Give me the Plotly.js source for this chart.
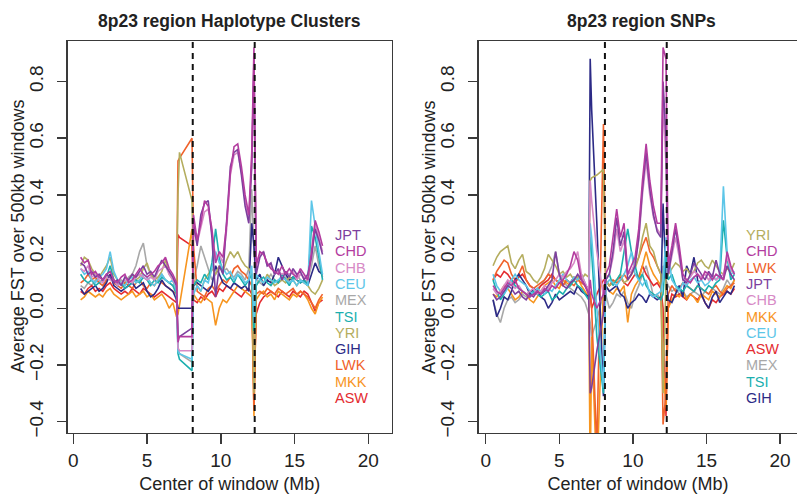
<!DOCTYPE html>
<html>
<head>
<meta charset="utf-8">
<script src="https://cdn.plot.ly/plotly-3.0.1.min.js"></script>
<style>html,body{margin:0;padding:0;background:#fff;}#chart{width:797px;height:494px;}</style>
</head>
<body>
<div id="chart"></div>
<script>
// ---- data: left panel (Haplotype Clusters) ----
var xLeft = [0.5,0.75,1,1.25,1.5,1.75,2,2.25,2.5,2.75,3,3.25,3.5,3.75,4,4.25,4.5,4.75,5,5.25,5.5,5.75,6,6.25,6.5,6.75,7,
  7.1,7.2,8.05,
  8.15,8.4,8.65,8.9,9.15,9.4,9.65,9.9,10.15,10.4,10.65,10.9,11.15,11.4,11.65,11.9,12.1,
  12.25,
  12.4,12.65,12.9,13.15,13.4,13.65,13.9,14.15,14.4,14.65,14.9,15.15,15.4,15.65,15.9,16.15,16.4,16.65,16.9];

var hapJPT = [0.16,0.15,0.12,0.13,0.11,0.12,0.1,0.12,0.11,0.09,0.1,0.08,0.11,0.1,0.12,0.11,0.13,0.15,0.12,0.13,0.11,0.14,0.17,0.15,0.13,0.11,0.08,
  -0.1,-0.1,-0.07,
  0.3,0.22,0.33,0.37,0.38,0.25,0.04,0.15,0.12,0.3,0.5,0.55,0.56,0.47,0.36,0.3,0.5,
  0.88,
  0.12,0.18,0.2,0.15,0.16,0.12,0.14,0.1,0.13,0.11,0.14,0.12,0.13,0.1,0.12,0.18,0.28,0.24,0.19];
var hapCHD = [0.18,0.16,0.17,0.12,0.13,0.11,0.1,0.12,0.13,0.1,0.09,0.11,0.12,0.09,0.1,0.12,0.14,0.12,0.11,0.12,0.13,0.15,0.16,0.18,0.14,0.12,0.09,
  -0.12,-0.1,-0.1,
  0.33,0.24,0.3,0.38,0.36,0.28,0.16,0.2,0.18,0.3,0.48,0.57,0.58,0.5,0.4,0.33,0.55,
  0.92,
  0.15,0.2,0.19,0.16,0.14,0.13,0.12,0.15,0.12,0.14,0.12,0.11,0.14,0.12,0.1,0.2,0.31,0.27,0.22];
var hapCHB = [0.14,0.13,0.15,0.11,0.12,0.1,0.09,0.11,0.1,0.1,0.08,0.09,0.1,0.1,0.09,0.11,0.12,0.11,0.1,0.11,0.1,0.13,0.14,0.15,0.12,0.1,0.08,
  -0.14,-0.15,-0.15,
  0.28,0.23,0.29,0.34,0.35,0.26,0.18,0.19,0.16,0.28,0.47,0.54,0.55,0.48,0.38,0.31,0.52,
  0.85,
  0.16,0.19,0.2,0.15,0.15,0.12,0.13,0.12,0.13,0.12,0.13,0.1,0.12,0.11,0.1,0.18,0.3,0.25,0.2];
var hapCEU = [0.14,0.12,0.13,0.1,0.09,0.11,0.12,0.14,0.2,0.13,0.1,0.09,0.08,0.1,0.11,0.09,0.1,0.12,0.11,0.09,0.08,0.1,0.12,0.1,0.09,0.1,0.06,
  -0.15,-0.16,-0.18,
  0.05,0.08,0.06,0.1,0.09,0.14,0.2,0.16,0.14,0.12,0.13,0.1,0.12,0.11,0.09,0.1,0.15,
  -0.05,
  0.12,0.1,0.09,0.11,0.1,0.09,0.1,0.11,0.1,0.09,0.1,0.08,0.1,0.09,0.08,0.38,0.28,0.2,0.12];
var hapMEX = [0.08,0.07,0.09,0.08,0.1,0.09,0.08,0.1,0.12,0.09,0.08,0.1,0.09,0.11,0.12,0.15,0.2,0.23,0.15,0.12,0.1,0.11,0.12,0.1,0.09,0.08,0.06,
  -0.14,-0.16,-0.19,
  0.1,0.15,0.22,0.18,0.14,0.1,0.12,0.15,0.13,0.14,0.12,0.11,0.13,0.12,0.1,0.14,0.42,
  0.2,
  0.1,0.09,0.08,0.1,0.12,0.1,0.09,0.1,0.11,0.09,0.1,0.12,0.1,0.09,0.1,0.15,0.22,0.15,0.11];
var hapTSI = [0.12,0.1,0.09,0.1,0.08,0.09,0.1,0.11,0.15,0.1,0.08,0.09,0.07,0.08,0.09,0.1,0.09,0.11,0.1,0.08,0.1,0.09,0.11,0.1,0.09,0.08,0.05,
  -0.16,-0.18,-0.22,
  0.08,0.1,0.09,0.12,0.1,0.16,0.28,0.18,0.12,0.1,0.11,0.09,0.12,0.1,0.08,0.1,0.12,
  -0.08,
  0.08,0.1,0.11,0.09,0.08,0.1,0.09,0.12,0.1,0.08,0.11,0.1,0.09,0.1,0.08,0.29,0.25,0.18,0.1];
var hapYRI = [0.15,0.18,0.17,0.14,0.12,0.11,0.13,0.15,0.18,0.12,0.1,0.09,0.08,0.1,0.12,0.1,0.11,0.14,0.16,0.12,0.1,0.11,0.13,0.17,0.12,0.1,0.05,
  0.4,0.55,0.38,
  0.1,0.08,0.06,0.1,0.12,0.14,0.12,0.15,0.13,0.17,0.2,0.18,0.2,0.17,0.15,0.14,0.12,
  -0.3,
  0.08,0.1,0.09,0.12,0.1,0.08,0.09,0.1,0.09,0.11,0.1,0.08,0.1,0.09,0.08,0.06,0.05,0.07,0.1];
var hapGIH = [0.07,0.05,0.06,0.07,0.08,0.06,0.07,0.09,0.12,0.08,0.07,0.06,0.07,0.08,0.09,0.07,0.08,0.09,0.06,0.04,0.05,0.07,0.1,0.08,0.07,0.06,0.03,
  0.0,0.0,0.0,
  0.08,0.09,0.08,0.07,0.06,0.08,0.15,0.12,0.09,0.08,0.07,0.09,0.08,0.07,0.08,0.06,0.3,
  0.22,
  0.1,0.12,0.08,0.1,0.09,0.12,0.18,0.15,0.12,0.1,0.11,0.1,0.09,0.1,0.08,0.12,0.16,0.13,0.12];
var hapLWK = [0.09,0.1,0.12,0.1,0.11,0.09,0.08,0.1,0.12,0.09,0.08,0.07,0.09,0.08,0.07,0.09,0.1,0.08,0.07,0.09,0.08,0.1,0.09,0.08,0.07,0.06,0.05,
  0.52,0.53,0.6,
  0.22,0.06,0.05,0.04,0.07,0.08,0.06,0.08,0.1,0.09,0.11,0.14,0.15,0.13,0.12,0.1,0.08,
  -0.36,
  0.05,0.06,0.05,0.07,0.06,0.05,0.07,0.06,0.05,0.06,0.07,0.05,0.06,0.05,0.04,0.02,0.0,0.03,0.05];
var hapMKK = [0.03,0.04,0.06,0.05,0.04,0.05,0.04,0.06,0.07,0.05,0.04,0.03,0.04,0.05,0.06,0.04,0.05,0.06,0.04,0.05,0.03,0.04,0.05,0.03,0.0,0.02,-0.03,
  -0.02,0.01,0.28,
  0.05,0.03,0.02,0.04,0.03,0.02,-0.06,0.0,0.03,0.02,0.04,0.06,0.08,0.07,0.06,0.05,0.04,
  -0.38,
  0.03,0.05,0.06,0.04,0.05,0.03,0.06,0.05,0.04,0.03,0.05,0.04,0.06,0.05,0.03,0.0,-0.02,0.02,0.04];
var hapASW = [0.06,0.05,0.07,0.08,0.06,0.07,0.06,0.08,0.09,0.07,0.06,0.05,0.06,0.05,0.07,0.06,0.05,0.07,0.06,0.05,0.04,0.05,0.06,0.05,0.04,0.03,0.02,
  0.26,0.25,0.22,
  0.03,0.02,0.04,0.03,0.05,0.06,0.04,0.07,0.06,0.08,0.07,0.06,0.05,0.04,0.06,0.07,0.05,
  -0.3,
  -0.02,0.02,0.04,0.05,0.06,0.05,0.04,0.06,0.05,0.04,0.06,0.05,0.04,0.06,0.05,0.02,-0.01,0.02,0.03];

// ---- data: right panel (SNPs) ----
var xRight = [0.5,0.75,1,1.25,1.5,1.75,2,2.25,2.5,2.75,3,3.25,3.5,3.75,4,4.25,4.5,4.75,5,5.25,5.5,5.75,6,6.25,6.5,6.75,7,
  7.1,7.2,7.55,8.0,
  8.15,8.4,8.65,8.9,9.15,9.4,9.65,9.9,10.15,10.4,10.65,10.9,11.15,11.4,11.65,11.9,
  12.05,12.25,
  12.4,12.65,12.9,13.15,13.4,13.65,13.9,14.15,14.4,14.65,14.9,15.15,15.4,15.65,15.9,16.15,16.4,16.65,16.9];

var snpYRI = [0.15,0.18,0.2,0.21,0.22,0.16,0.14,0.17,0.19,0.13,0.12,0.1,0.09,0.11,0.14,0.19,0.17,0.15,0.12,0.13,0.11,0.12,0.1,0.11,0.1,0.12,0.11,
  0.45,0.46,0.47,0.49,
  0.1,0.08,0.09,0.1,0.12,0.09,0.1,0.12,0.14,0.18,0.25,0.3,0.22,0.2,0.15,0.12,
  -0.3,0.1,
  0.12,0.14,0.16,0.15,0.13,0.14,0.12,0.13,0.16,0.17,0.15,0.14,0.17,0.15,0.13,0.12,0.14,0.13,0.16];
var snpCHD = [0.08,0.06,0.05,0.07,0.09,0.08,0.1,0.07,0.06,0.05,0.04,0.05,0.06,0.05,0.07,0.06,0.08,0.07,0.09,0.1,0.12,0.15,0.2,0.17,0.1,0.08,0.05,
  0.1,0.05,0.0,0.05,
  0.12,0.15,0.25,0.35,0.25,0.3,0.12,0.15,0.18,0.28,0.45,0.58,0.45,0.36,0.3,0.3,
  0.92,0.88,
  0.15,0.22,0.3,0.22,0.12,0.1,0.09,0.11,0.12,0.1,0.13,0.12,0.1,0.12,0.11,0.1,0.2,0.15,0.12];
var snpLWK = [0.1,0.13,0.15,0.17,0.16,0.12,0.1,0.12,0.15,0.1,0.08,0.07,0.08,0.09,0.1,0.12,0.11,0.1,0.09,0.08,0.1,0.09,0.08,0.1,0.09,0.08,0.07,
  0.05,0.0,-0.5,0.65,
  0.1,0.08,0.1,0.09,0.1,0.12,0.1,0.12,0.15,0.18,0.22,0.25,0.2,0.18,0.15,0.12,
  -0.41,-0.3,
  0.05,0.08,0.06,0.07,0.09,0.08,0.07,0.06,0.08,0.07,0.06,0.05,0.07,0.08,0.06,0.05,0.07,0.08,0.09];
var snpJPT = [0.05,0.03,0.04,0.06,0.08,0.07,0.05,0.06,0.04,0.03,0.05,0.04,0.06,0.05,0.06,0.08,0.1,0.2,0.12,0.08,0.07,0.09,0.1,0.12,0.1,0.08,0.05,
  -0.3,-0.28,-0.15,-0.02,
  0.1,0.12,0.2,0.32,0.22,0.27,0.1,0.12,0.15,0.25,0.42,0.55,0.42,0.33,0.27,0.25,
  0.8,0.6,
  0.12,0.2,0.28,0.2,0.1,0.09,0.12,0.16,0.14,0.12,0.1,0.13,0.11,0.17,0.12,0.1,0.15,0.12,0.1];
var snpCHB = [0.07,0.05,0.06,0.08,0.1,0.09,0.07,0.08,0.06,0.05,0.06,0.07,0.05,0.06,0.08,0.07,0.09,0.1,0.12,0.11,0.13,0.14,0.16,0.2,0.12,0.09,0.06,
  0.45,0.38,0.2,0.04,
  0.1,0.12,0.18,0.28,0.2,0.24,0.12,0.13,0.16,0.24,0.4,0.52,0.4,0.32,0.28,0.26,
  0.75,0.5,
  0.12,0.18,0.25,0.18,0.1,0.1,0.11,0.13,0.12,0.11,0.12,0.1,0.12,0.1,0.11,0.12,0.18,0.14,0.12];
var snpMKK = [0.05,0.04,0.06,0.08,0.07,0.05,0.03,0.04,0.06,0.05,0.03,0.02,0.04,0.06,0.08,0.09,0.1,0.08,0.07,0.1,0.09,0.08,0.1,0.11,0.08,0.06,0.04,
  -0.6,-0.1,-0.6,0.08,
  0.08,0.06,0.05,0.07,0.06,0.08,-0.05,0.05,0.08,0.1,0.15,0.2,0.15,0.12,0.1,0.08,
  -0.2,-0.35,
  0.0,0.03,0.05,0.04,0.06,0.03,0.05,0.04,0.02,0.05,0.04,0.03,0.06,0.05,0.04,0.06,0.08,0.07,0.1];
var snpCEU = [0.12,0.08,0.06,0.05,0.07,0.1,0.12,0.1,0.09,0.08,0.06,0.05,0.07,0.06,0.05,0.07,0.06,0.08,0.1,0.12,0.1,0.09,0.11,0.1,0.12,0.09,0.06,
  0.3,0.25,0.0,-0.28,
  0.08,0.1,0.09,0.08,0.1,0.12,0.15,0.2,0.12,0.1,0.08,0.1,0.05,0.04,0.05,0.06,
  0.1,0.25,
  0.2,0.1,0.08,0.06,0.09,0.08,0.1,0.11,0.09,0.1,0.08,0.09,0.11,0.1,0.12,0.43,0.2,0.12,0.13];
var snpASW = [0.1,0.12,0.11,0.13,0.12,0.1,0.09,0.11,0.12,0.1,0.08,0.07,0.06,0.08,0.09,0.1,0.12,0.1,0.09,0.08,0.1,0.09,0.11,0.1,0.12,0.08,0.07,
  0.05,0.0,0.05,0.1,
  0.1,0.08,0.09,0.1,0.11,0.09,0.08,0.1,0.12,0.11,0.15,0.12,0.1,0.08,0.09,0.07,
  0.0,-0.38,
  0.0,0.05,0.04,0.05,0.04,0.03,0.05,0.04,0.03,0.05,0.02,0.0,0.03,0.02,0.04,0.05,0.06,0.05,0.07];
var snpMEX = [0.03,-0.02,-0.05,0.0,0.03,0.04,0.02,0.03,0.05,0.04,0.06,0.05,0.07,0.08,0.1,0.12,0.15,0.2,0.12,0.1,0.08,0.07,0.06,0.05,0.04,0.02,-0.02,
  -0.05,-0.1,-0.04,0.05,
  0.05,0.0,0.02,0.05,0.04,0.06,0.02,0.0,0.05,0.08,0.12,0.15,0.1,0.04,0.05,0.03,
  0.15,0.1,
  0.08,0.06,0.07,0.05,0.06,0.04,0.05,0.06,0.05,0.04,0.06,0.05,0.07,0.06,0.05,0.07,0.1,0.08,0.1];
var snpTSI = [0.1,0.06,0.03,0.05,0.08,0.1,0.08,0.07,0.06,0.05,0.04,0.06,0.05,0.04,0.05,0.06,0.03,0.04,0.06,0.05,0.07,0.08,0.1,0.08,0.07,0.05,0.03,
  0.28,0.2,-0.1,-0.3,
  0.1,0.12,0.08,0.1,0.12,0.2,0.28,0.2,0.15,0.1,0.12,0.08,0.06,0.05,0.04,0.03,
  0.05,0.2,
  0.1,0.12,0.08,0.07,0.06,0.08,0.07,0.06,0.08,0.07,0.06,0.08,0.07,0.09,0.1,0.31,0.18,0.1,0.12];
var snpGIH = [0.03,-0.03,0.0,0.04,0.03,0.06,0.1,0.12,0.1,0.08,0.05,0.07,0.06,0.04,0.03,0.0,0.02,0.05,0.03,0.04,0.05,0.06,0.05,0.08,0.06,0.05,0.04,
  0.88,0.7,0.3,-0.31,
  0.08,0.06,0.07,0.08,0.05,0.04,0.0,0.02,0.03,0.05,0.04,0.02,0.05,0.04,0.03,0.04,
  0.37,0.1,
  0.03,0.02,0.05,0.08,0.04,0.15,0.12,0.18,0.1,0.05,0.02,0.0,0.04,0.06,0.02,0.04,0.06,0.05,0.08];

// ---- labels ----
var legendLeft = ['JPT','CHD','CHB','CEU','MEX','TSI','YRI','GIH','LWK','MKK','ASW'];
var legendRight = ['YRI','CHD','LWK','JPT','CHB','MKK','CEU','ASW','MEX','TSI','GIH'];
var xTicks = [0,5,10,15,20];
var yTicks = [-0.4,-0.2,0,0.2,0.4,0.6,0.8];
var yTickText = ['\u22120.4','\u22120.2','0.0','0.2','0.4','0.6','0.8'];
var breakpoints = [8.1,12.3];
var titles = ['8p23 region Haplotype Clusters','8p23 region SNPs'];
var xTitle = 'Center of window (Mb)';
var yTitle = 'Average FST over 500kb windows';

var colors = {JPT:'#7D3F9E',CHD:'#B33C9F',CHB:'#D78AC6',CEU:'#5DC6E8',MEX:'#A8A8A8',TSI:'#1BAFAF',
  YRI:'#B4AD5E',GIH:'#2C2A86',LWK:'#F0622B',MKK:'#F7951F',ASW:'#E42B2F'};

var hap = {JPT:hapJPT,CHD:hapCHD,CHB:hapCHB,CEU:hapCEU,MEX:hapMEX,TSI:hapTSI,YRI:hapYRI,GIH:hapGIH,LWK:hapLWK,MKK:hapMKK,ASW:hapASW};
var snp = {JPT:snpJPT,CHD:snpCHD,CHB:snpCHB,CEU:snpCEU,MEX:snpMEX,TSI:snpTSI,YRI:snpYRI,GIH:snpGIH,LWK:snpLWK,MKK:snpMKK,ASW:snpASW};
var drawOrder = ['MEX','ASW','MKK','LWK','GIH','YRI','TSI','CEU','CHB','JPT','CHD'];

var traces = [];
drawOrder.forEach(function(k){
  traces.push({x:xLeft,y:hap[k],type:'scatter',mode:'lines',name:k,xaxis:'x',yaxis:'y',
    line:{color:colors[k],width:1.6},showlegend:false,hoverinfo:'skip'});
});
drawOrder.forEach(function(k){
  traces.push({x:xRight,y:snp[k],type:'scatter',mode:'lines',name:k,xaxis:'x2',yaxis:'y2',
    line:{color:colors[k],width:1.6},showlegend:false,hoverinfo:'skip'});
});

var FONT = 'Liberation Sans, Arial, Helvetica, sans-serif';
var axisCommon = {showgrid:false,zeroline:false,showline:true,linecolor:'#3a3a3a',linewidth:1.5,
  ticks:'outside',tickcolor:'#3a3a3a',tickwidth:1.5,tickfont:{family:FONT,size:19,color:'#222'}};

function xa(domain, range, mirror){
  return Object.assign({}, axisCommon, {domain:domain, range:range, tickvals:xTicks, ticklen:10,
    mirror:mirror, ticklabelstandoff:0,
    title:{text:xTitle, font:{family:FONT,size:18,color:'#222'}, standoff:12}});
}
function ya(domain, mirror, anchor){
  return Object.assign({}, axisCommon, {domain:domain, range:[-0.44,0.943], tickvals:yTicks, ticktext:yTickText,
    tickangle:-90, ticklen:9, mirror:mirror, anchor:anchor, ticklabelstandoff:7});
}

var yDom = [0.1235,0.917];
var shapes = [];
breakpoints.forEach(function(b){
  ['x','x2'].forEach(function(xr, i){
    shapes.push({type:'line',xref:xr,yref:(i===0?'y domain':'y2 domain'),x0:b,x1:b,y0:0,y1:1,
      line:{color:'#111',width:2,dash:'6px,5px'}});
  });
});

// legend: one multi-line coloured text block per panel
var LEG_STEP = 16.3, LEG_SIZE = 14.5;
function legendText(list){
  return list.map(function(k){
    return '<span style="font-size:' + LEG_SIZE + 'px;fill:' + colors[k] + '">' + k + '</span>';
  }).join('<br>');
}

var annotations = [];
annotations.push({text:'<b>'+titles[0]+'</b>',xref:'paper',yref:'paper',x:0.2882,y:1-21/494,
  xanchor:'center',yanchor:'middle',showarrow:false,font:{family:FONT,size:17.5,color:'#222'}});
annotations.push({text:'<b>'+titles[1]+'</b>',xref:'paper',yref:'paper',x:0.8045,y:1-21/494,
  xanchor:'center',yanchor:'middle',showarrow:false,font:{family:FONT,size:17.5,color:'#222'}});
// y-axis titles (rotated), placed like the reference
[18, 429].forEach(function(px){
  annotations.push({text:yTitle,xref:'paper',yref:'paper',x:px/797,y:1-237/494,textangle:-90,
    xanchor:'center',yanchor:'middle',showarrow:false,font:{family:FONT,size:18,color:'#222'}});
});
annotations.push({text:legendText(legendLeft),xref:'paper',yref:'paper',x:333/797,y:1-316/494,
  xanchor:'left',yanchor:'middle',align:'left',showarrow:false,font:{family:FONT,size:LEG_STEP/1.3,color:'#222'}});
annotations.push({text:legendText(legendRight),xref:'paper',yref:'paper',x:744/797,y:1-316/494,
  xanchor:'left',yanchor:'middle',align:'left',showarrow:false,font:{family:FONT,size:LEG_STEP/1.3,color:'#222'}});

var layout = {
  width:797,height:494,margin:{l:0,r:0,t:0,b:0},paper_bgcolor:'#fff',plot_bgcolor:'#fff',
  showlegend:false,
  xaxis: Object.assign(xa([0.0849,0.4915],[-0.38,21.59],true),{anchor:'y'}),
  yaxis: ya(yDom,true,'x'),
  xaxis2: Object.assign(xa([0.601,1.0],[-0.455,21.15],true),{anchor:'y2'}),
  yaxis2: ya(yDom,false,'x2'),
  shapes:shapes, annotations:annotations
};

Plotly.newPlot('chart', traces, layout, {displayModeBar:false,staticPlot:true});
</script>
</body>
</html>
